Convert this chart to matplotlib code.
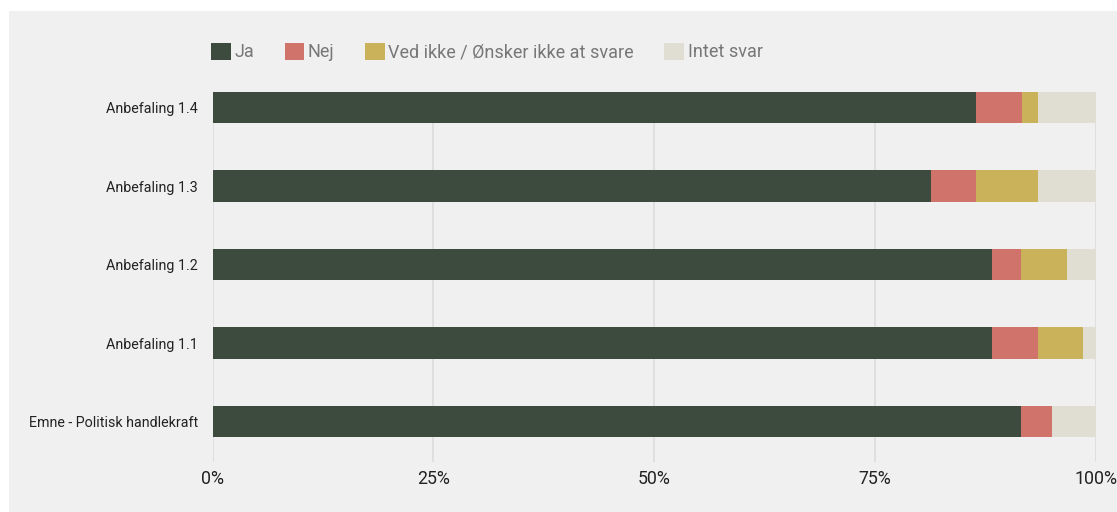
import numpy as np
import matplotlib
matplotlib.use("Agg")
from matplotlib import pyplot as plt
from matplotlib.patches import Rectangle, Patch

plt.rcParams['font.family'] = ['Roboto', 'DejaVu Sans']

categories = ["Anbefaling 1.4", "Anbefaling 1.3", "Anbefaling 1.2",
              "Anbefaling 1.1", "Emne - Politisk handlekraft"]
series = ["Ja", "Nej", "Ved ikke / Ønsker ikke at svare", "Intet svar"]
ja = [86.5, 81.4, 88.3, 88.3, 91.6]
nej = [5.2, 5.1, 3.3, 5.2, 3.5]
ved_ikke = [1.8, 7.0, 5.2, 5.1, 0.0]
intet = [6.5, 6.5, 3.2, 1.4, 4.9]
ticks = [0, 25, 50, 75, 100]
tick_labels = ["0%", "25%", "50%", "75%", "100%"]
colors = ["#3d4b3f", "#d0736a", "#c9b25a", "#e0ddd2"]

bg = "#f0f0f0"
fig = plt.figure(figsize=(11.17, 5.12), dpi=100)
fig.patch.set_facecolor("white")
fig.patches.append(Rectangle((9 / 1117, 0), 1, 1 - 11 / 512,
                             transform=fig.transFigure, facecolor=bg,
                             edgecolor="none", zorder=-10))

ax = fig.add_axes([212.5 / 1117, 0.0977, 883 / 1117, 0.7227])
ax.set_facecolor(bg)

y = np.arange(len(categories))
left = np.zeros(len(categories))
for vals, name, c in zip([ja, nej, ved_ikke, intet], series, colors):
    ax.barh(y, vals, left=left, height=0.4, color=c, label=name, zorder=3)
    left += np.array(vals)

ax.set_xlim(0, 100)
ax.set_ylim(4.514, -0.2)
ax.set_yticks(y)
ax.set_yticklabels(categories, fontsize=10.3, color="#222222")
ax.set_xticks(ticks)
ax.set_xticklabels(tick_labels, fontsize=12.8, color="#222222")
ax.tick_params(axis="both", length=0)
ax.tick_params(axis="y", pad=10.5)
ax.tick_params(axis="x", pad=6)
ax.grid(axis="x", color="#dcdcdc", linewidth=1.2, zorder=0)
for s in ax.spines.values():
    s.set_visible(False)

handles = [Patch(facecolor=c, edgecolor="none") for c in colors]
leg = fig.legend(handles, series, loc="center left",
                 bbox_to_anchor=(211 / 1117, 1 - 52 / 512), ncol=4,
                 frameon=False, fontsize=13, handlelength=1.1,
                 handleheight=1.1, handletextpad=0.18, columnspacing=1.7,
                 borderpad=0, borderaxespad=0)
for t in leg.get_texts():
    t.set_color("#777777")

plt.savefig("out.png", dpi=100, facecolor=fig.get_facecolor())
